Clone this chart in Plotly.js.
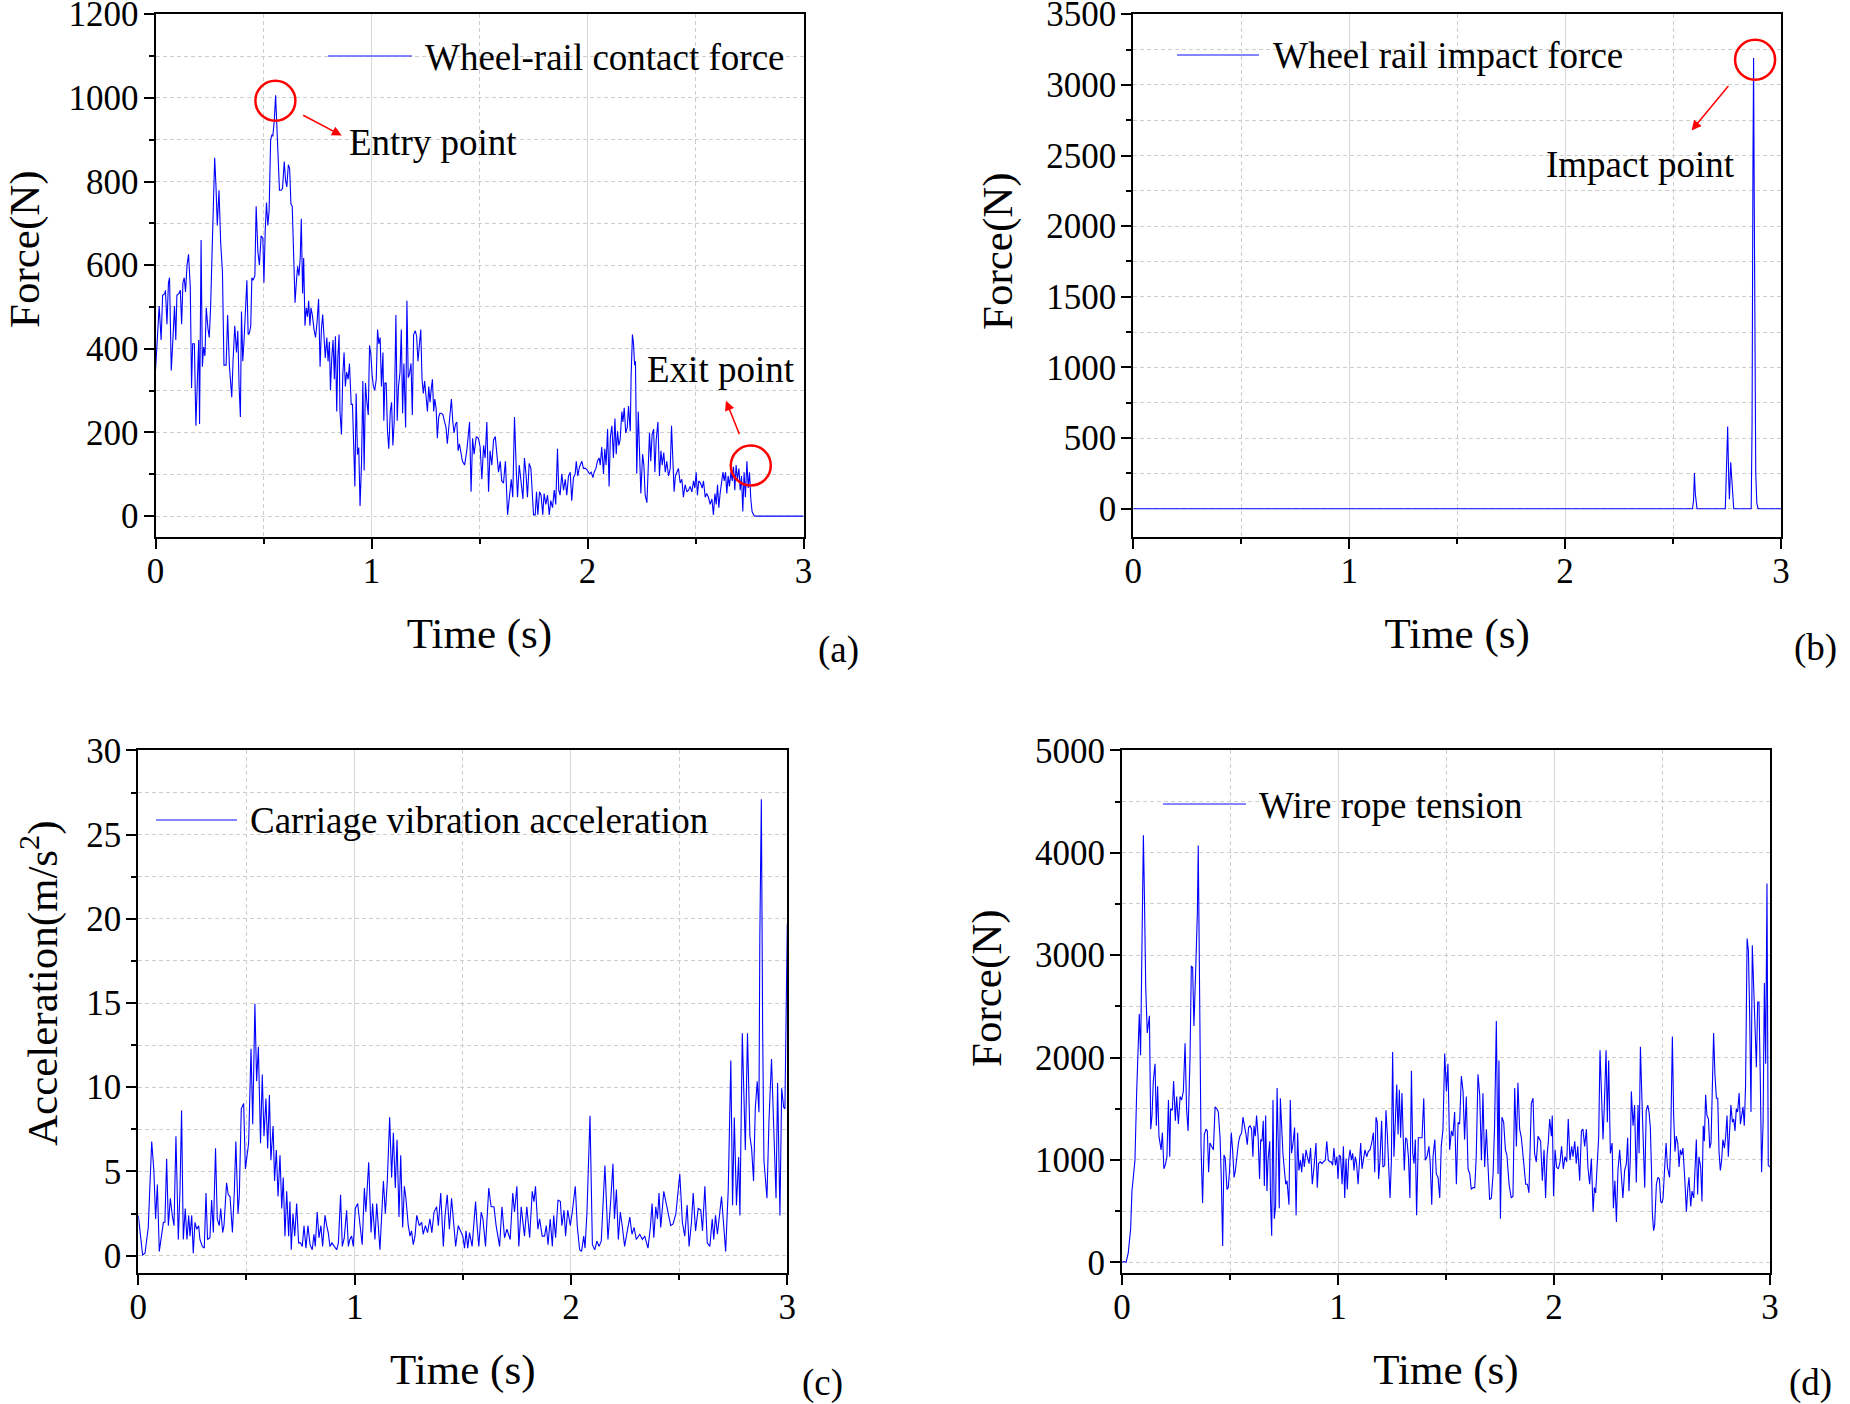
<!DOCTYPE html>
<html>
<head>
<meta charset="utf-8">
<script src="https://cdn.plot.ly/plotly-3.0.1.min.js"></script>
<style>
  html, body { margin: 0; padding: 0; background: #ffffff; }
  #chart { width: 1850px; height: 1404px; }
</style>
</head>
<body>
<div id="chart"></div>
<script>
// ---- (a) wheel-rail contact force ----
const contactTime = [
  0.000,0.008,0.017,0.026,0.033,0.043,0.046,0.053,0.060,0.065,0.073,0.080,0.088,0.094,0.099,0.108,0.115,0.121,0.127,0.133,
  0.139,0.146,0.153,0.161,0.167,0.172,0.180,0.187,0.193,0.200,0.204,0.211,0.217,0.223,0.229,0.235,0.243,0.249,0.255,0.263,
  0.274,0.280,0.286,0.294,0.302,0.310,0.317,0.327,0.334,0.342,0.353,0.359,0.367,0.375,0.381,0.387,0.393,0.398,0.404,0.410,
  0.415,0.423,0.429,0.435,0.441,0.446,0.452,0.460,0.466,0.474,0.481,0.489,0.497,0.502,0.508,0.514,0.520,0.526,0.533,0.539,
  0.543,0.550,0.556,0.560,0.567,0.574,0.582,0.588,0.596,0.602,0.608,0.615,0.621,0.627,0.633,0.639,0.646,0.652,0.658,0.664,
  0.670,0.675,0.681,0.686,0.692,0.698,0.704,0.709,0.715,0.720,0.726,0.734,0.741,0.748,0.755,0.762,0.768,0.774,0.780,0.786,
  0.793,0.799,0.805,0.810,0.816,0.822,0.828,0.833,0.839,0.844,0.850,0.854,0.861,0.867,0.873,0.879,0.885,0.892,0.898,0.906,
  0.912,0.918,0.923,0.929,0.935,0.941,0.947,0.954,0.960,0.966,0.972,0.978,0.985,0.991,0.997,1.003,1.009,1.015,1.022,1.028,
  1.034,1.040,1.046,1.053,1.057,1.062,1.068,1.074,1.080,1.087,1.093,1.099,1.105,1.113,1.119,1.125,1.132,1.138,1.144,1.150,
  1.158,1.164,1.170,1.176,1.183,1.189,1.195,1.203,1.209,1.215,1.221,1.228,1.234,1.240,1.246,1.252,1.259,1.265,1.271,1.277,
  1.282,1.288,1.293,1.299,1.305,1.311,1.317,1.324,1.331,1.337,1.345,1.351,1.358,1.364,1.370,1.376,1.382,1.389,1.395,1.401,
  1.407,1.421,1.431,1.441,1.454,1.461,1.468,1.475,1.485,1.495,1.503,1.511,1.519,1.526,1.534,1.542,1.549,1.557,1.565,1.573,
  1.580,1.588,1.596,1.603,1.611,1.620,1.630,1.637,1.647,1.654,1.662,1.670,1.676,1.684,1.691,1.701,1.708,1.716,1.722,1.730,
  1.738,1.744,1.750,1.758,1.764,1.770,1.778,1.785,1.793,1.799,1.807,1.815,1.823,1.830,1.838,1.846,1.853,1.861,1.867,1.873,
  1.881,1.889,1.897,1.904,1.912,1.920,1.927,1.935,1.943,1.948,1.955,1.963,1.974,1.981,1.991,2.000,2.009,2.017,2.025,2.031,
  2.039,2.046,2.054,2.059,2.066,2.074,2.080,2.086,2.093,2.100,2.106,2.113,2.120,2.127,2.133,2.139,2.145,2.151,2.159,2.164,
  2.170,2.177,2.184,2.190,2.198,2.202,2.208,2.213,2.218,2.222,2.228,2.235,2.241,2.247,2.255,2.261,2.267,2.275,2.281,2.287,
  2.293,2.299,2.306,2.312,2.318,2.326,2.333,2.340,2.346,2.353,2.360,2.367,2.375,2.383,2.389,2.395,2.401,2.407,2.414,2.421,
  2.429,2.437,2.444,2.452,2.460,2.468,2.475,2.483,2.491,2.497,2.503,2.509,2.515,2.523,2.531,2.537,2.545,2.552,2.560,2.568,
  2.576,2.583,2.590,2.596,2.602,2.608,2.614,2.620,2.627,2.633,2.639,2.645,2.651,2.657,2.664,2.670,2.676,2.682,2.688,2.694,
  2.701,2.707,2.713,2.719,2.725,2.731,2.738,2.744,2.750,2.756,2.762,2.769,2.776,3.000
];
const contactForce = [
  348,412,502,421,528,532,540,459,558,570,348,417,502,421,528,532,540,459,558,570,
  536,600,626,547,306,412,412,216,336,421,220,660,357,404,383,498,448,427,498,632,
  857,789,695,779,651,583,361,361,481,361,284,370,455,391,443,310,237,489,370,421,
  489,564,434,438,455,570,564,575,741,632,600,670,665,558,683,750,695,730,899,912,
  908,946,1006,949,880,779,779,783,848,804,787,840,831,746,741,600,510,558,597,575,
  617,711,532,617,455,498,477,515,455,498,481,446,427,464,519,357,446,482,434,378,
  427,370,417,301,378,421,327,430,250,378,434,250,195,336,391,310,344,327,365,267,
  267,173,71,293,147,164,24,130,323,109,318,276,242,408,387,336,310,301,327,446,
  412,427,310,391,228,318,318,203,161,250,272,169,225,481,228,310,344,446,246,365,
  212,515,331,340,365,242,434,443,430,370,400,446,327,293,323,293,250,310,272,306,
  327,250,280,259,186,237,246,246,242,228,212,173,212,242,280,228,199,220,225,156,
  173,131,122,156,225,58,186,148,190,186,165,88,169,139,225,58,156,122,182,190,
  152,105,131,84,79,131,3,45,88,45,237,114,45,122,88,41,139,96,45,126,
  114,54,3,3,58,3,58,50,3,54,28,50,3,37,20,62,28,161,62,50,
  101,62,88,50,96,105,37,92,101,131,96,118,131,114,114,109,101,105,92,105,
  114,131,139,122,165,101,161,122,208,71,190,216,139,233,148,203,169,182,250,225,
  259,199,212,263,203,336,434,412,361,370,101,250,173,54,148,122,50,32,114,199,
  131,195,208,105,182,225,96,156,122,152,105,131,96,114,216,148,58,96,105,114,
  79,88,45,75,58,62,71,58,84,67,105,50,84,79,67,84,45,54,45,28,
  41,3,54,28,75,20,54,79,105,84,105,54,96,71,105,84,118,62,122,88,
  114,62,96,11,105,45,131,67,105,41,11,3,0,0
];

// ---- (b) wheel rail impact force ----
const impactTime  = [0, 2.590, 2.595, 2.599, 2.603, 2.607, 2.611, 2.742, 2.748, 2.753, 2.758, 2.761, 2.767, 2.772, 2.781,
                     2.862, 2.866, 2.870, 2.873, 2.876, 2.879, 2.883, 2.888, 2.894, 3.000];
const impactForce = [0, 0, 60, 253, 110, 15, 0, 0, 300, 582, 200, 68, 329, 233, 0,
                     0, 600, 2400, 3190, 2200, 900, 250, 40, 0, 0];

// ---- (c) carriage vibration acceleration ----
const accelTime = [
  0.000,0.020,0.031,0.046,0.062,0.072,0.080,0.088,0.097,0.108,0.116,0.123,0.131,0.139,0.148,0.157,0.165,0.174,0.185,0.193,
  0.200,0.208,0.217,0.225,0.233,0.239,0.247,0.254,0.262,0.270,0.279,0.285,0.296,0.305,0.313,0.320,0.331,0.339,0.347,0.357,
  0.365,0.374,0.381,0.390,0.396,0.408,0.416,0.424,0.435,0.444,0.451,0.461,0.467,0.476,0.487,0.495,0.504,0.510,0.521,0.529,
  0.539,0.547,0.555,0.565,0.573,0.581,0.590,0.598,0.606,0.613,0.623,0.630,0.638,0.646,0.655,0.663,0.670,0.678,0.686,0.695,
  0.701,0.707,0.715,0.723,0.732,0.741,0.750,0.758,0.766,0.775,0.784,0.794,0.804,0.812,0.818,0.827,0.835,0.844,0.852,0.863,
  0.871,0.878,0.886,0.895,0.906,0.917,0.925,0.935,0.943,0.952,0.963,0.971,0.978,0.986,0.994,1.003,1.014,1.025,1.035,1.045,
  1.052,1.065,1.076,1.083,1.094,1.102,1.117,1.133,1.142,1.151,1.162,1.171,1.179,1.188,1.196,1.205,1.213,1.222,1.230,1.237,
  1.248,1.256,1.263,1.271,1.279,1.287,1.299,1.310,1.317,1.327,1.337,1.348,1.357,1.367,1.379,1.387,1.398,1.410,1.418,1.428,
  1.438,1.448,1.456,1.467,1.479,1.500,1.508,1.515,1.523,1.531,1.543,1.559,1.566,1.574,1.585,1.593,1.605,1.620,1.631,1.644,
  1.654,1.670,1.681,1.693,1.704,1.719,1.731,1.739,1.750,1.759,1.770,1.785,1.796,1.809,1.821,1.829,1.836,1.847,1.855,1.867,
  1.878,1.886,1.894,1.904,1.914,1.920,1.929,1.940,1.951,1.958,1.968,1.975,1.985,1.997,2.006,2.020,2.029,2.040,2.049,2.059,
  2.065,2.074,2.088,2.099,2.110,2.120,2.130,2.140,2.157,2.171,2.184,2.194,2.201,2.210,2.219,2.228,2.238,2.248,2.259,2.272,
  2.282,2.292,2.302,2.318,2.330,2.341,2.356,2.367,2.375,2.383,2.392,2.400,2.407,2.415,2.429,2.441,2.452,2.461,2.472,2.485,
  2.503,2.515,2.526,2.537,2.546,2.557,2.565,2.576,2.588,2.600,2.608,2.619,2.630,2.642,2.653,2.660,2.668,2.677,2.696,2.715,
  2.727,2.739,2.747,2.755,2.765,2.775,2.781,2.792,2.806,2.816,2.827,2.835,2.844,2.852,2.861,2.869,2.873,2.880,2.886,2.892,
  2.906,2.915,2.927,2.940,2.948,2.955,2.966,2.974,2.983,2.989,2.995,3.000
];
const accelValue = [
  2.39,0.04,0.14,1.67,6.78,5.04,2.18,4.23,0.25,1.47,1.98,1.98,5.76,1.78,3.41,2.39,1.78,7.09,0.96,4.02,
  8.62,0.96,2.80,0.96,2.39,1.16,2.39,0.14,1.98,1.57,1.78,0.96,0.55,0.45,3.72,0.96,1.06,3.31,1.37,6.37,
  2.18,1.78,2.80,1.37,1.78,4.33,3.61,3.51,1.37,3.82,6.78,2.49,3.61,8.72,9.03,5.15,5.96,6.68,12.29,7.80,
  14.95,10.35,12.40,6.68,10.76,7.09,9.33,6.37,9.54,5.66,7.70,4.43,6.27,3.51,5.96,2.80,4.64,1.16,3.82,1.16,
  3.21,0.35,2.49,1.16,3.10,0.76,0.76,0.55,1.78,0.45,1.78,0.65,0.35,1.27,0.55,2.59,1.06,1.78,0.55,2.39,
  1.78,1.37,0.55,0.76,0.55,0.35,0.76,3.61,0.55,1.06,2.70,0.55,0.96,1.16,0.55,2.80,3.10,1.78,0.65,4.02,
  2.59,5.55,1.37,3.10,0.96,3.10,0.35,4.43,2.49,4.43,8.21,4.64,7.29,4.02,6.88,2.29,5.96,1.67,4.12,3.41,
  1.78,1.16,1.47,0.65,1.16,2.39,1.78,1.98,1.27,1.78,1.37,2.18,1.37,2.59,2.90,1.78,3.72,0.55,2.39,3.61,
  1.57,3.41,2.18,0.55,1.78,1.16,0.45,1.47,0.45,1.37,0.55,3.21,1.78,0.55,2.59,2.18,0.55,4.02,2.90,2.90,
  1.78,0.55,2.90,1.06,1.57,0.96,3.72,2.59,4.12,0.55,2.90,1.16,2.90,1.06,3.82,3.21,4.12,1.57,2.18,1.16,
  1.16,1.78,0.65,2.18,0.55,2.39,1.06,3.31,3.21,1.78,2.70,1.16,2.70,1.78,2.59,4.12,1.78,0.35,0.25,1.16,
  0.45,2.59,8.31,0.65,0.35,0.86,0.55,0.86,5.35,0.96,3.31,5.45,2.18,3.92,0.96,2.59,1.67,0.55,1.37,2.29,
  1.27,1.67,0.96,1.27,0.96,1.16,0.45,1.67,3.10,1.06,2.90,2.18,3.72,1.67,3.82,3.00,2.18,1.78,1.88,2.49,
  4.84,1.98,1.16,3.00,0.55,1.98,3.72,1.47,2.80,2.70,1.47,4.12,0.76,0.55,2.18,0.96,2.39,1.27,3.51,0.25,
  3.92,11.58,3.00,8.21,3.00,5.86,2.39,13.21,6.27,13.21,7.09,6.37,4.43,8.72,10.35,8.52,18.93,27.10,13.42,5.66,
  3.41,7.90,11.68,7.09,3.41,10.25,2.39,9.94,8.82,8.72,14.80,19.70
];

// ---- (d) wire rope tension ----
const tensionTime = [
  0.000,0.009,0.019,0.029,0.040,0.046,0.054,0.060,0.068,0.074,0.080,0.086,0.093,0.099,0.103,0.110,0.117,0.127,0.133,0.139,
  0.145,0.153,0.159,0.165,0.171,0.181,0.187,0.194,0.202,0.208,0.215,0.221,0.225,0.233,0.239,0.247,0.253,0.261,0.269,0.276,
  0.284,0.292,0.299,0.306,0.315,0.321,0.327,0.333,0.341,0.349,0.353,0.360,0.366,0.373,0.381,0.389,0.395,0.401,0.407,0.415,
  0.423,0.431,0.438,0.446,0.454,0.460,0.466,0.472,0.478,0.486,0.492,0.498,0.506,0.512,0.519,0.525,0.531,0.539,0.546,0.554,
  0.560,0.566,0.574,0.580,0.586,0.593,0.600,0.606,0.611,0.617,0.623,0.630,0.637,0.642,0.648,0.654,0.659,0.665,0.671,0.676,
  0.684,0.688,0.693,0.699,0.705,0.711,0.718,0.724,0.728,0.733,0.739,0.745,0.752,0.758,0.764,0.773,0.779,0.785,0.792,0.799,
  0.806,0.813,0.819,0.826,0.832,0.838,0.844,0.852,0.858,0.866,0.873,0.881,0.889,0.898,0.904,0.910,0.918,0.926,0.932,0.941,
  0.948,0.955,0.963,0.969,0.975,0.981,0.988,0.995,1.000,1.006,1.012,1.019,1.025,1.031,1.037,1.043,1.049,1.056,1.062,1.068,
  1.074,1.080,1.086,1.093,1.099,1.105,1.111,1.117,1.125,1.133,1.140,1.148,1.156,1.164,1.170,1.176,1.182,1.188,1.194,1.202,
  1.208,1.216,1.222,1.228,1.235,1.241,1.247,1.253,1.259,1.265,1.272,1.278,1.284,1.290,1.296,1.302,1.307,1.313,1.319,1.326,
  1.333,1.340,1.346,1.352,1.358,1.364,1.372,1.389,1.397,1.404,1.412,1.421,1.427,1.434,1.440,1.448,1.455,1.463,1.471,1.478,
  1.486,1.494,1.502,1.509,1.517,1.525,1.532,1.540,1.548,1.556,1.563,1.571,1.579,1.586,1.594,1.602,1.610,1.617,1.625,1.633,
  1.640,1.648,1.656,1.664,1.671,1.679,1.687,1.694,1.702,1.710,1.718,1.725,1.733,1.741,1.745,1.752,1.759,1.767,1.775,1.782,
  1.792,1.802,1.810,1.818,1.826,1.833,1.841,1.849,1.860,1.869,1.877,1.884,1.895,1.903,1.910,1.918,1.926,1.938,1.946,1.954,
  1.961,1.968,1.974,1.980,1.988,1.992,1.998,2.005,2.012,2.020,2.028,2.035,2.043,2.051,2.059,2.066,2.074,2.082,2.088,2.096,
  2.103,2.110,2.119,2.127,2.134,2.142,2.150,2.157,2.165,2.173,2.181,2.187,2.193,2.201,2.207,2.213,2.219,2.227,2.233,2.241,
  2.247,2.253,2.261,2.269,2.275,2.282,2.289,2.296,2.304,2.312,2.319,2.327,2.335,2.341,2.347,2.353,2.358,2.366,2.373,2.381,
  2.389,2.394,2.400,2.407,2.414,2.420,2.427,2.434,2.440,2.446,2.451,2.455,2.461,2.466,2.474,2.481,2.488,2.494,2.500,2.505,
  2.512,2.519,2.525,2.531,2.535,2.540,2.548,2.554,2.560,2.566,2.573,2.579,2.585,2.591,2.597,2.605,2.613,2.619,2.625,2.633,
  2.639,2.647,2.653,2.659,2.665,2.671,2.679,2.685,2.691,2.696,2.702,2.708,2.715,2.721,2.727,2.733,2.739,2.745,2.752,2.758,
  2.764,2.770,2.776,2.782,2.789,2.795,2.801,2.807,2.813,2.819,2.826,2.832,2.838,2.844,2.850,2.857,2.863,2.869,2.875,2.881,
  2.887,2.894,2.900,2.906,2.912,2.918,2.924,2.931,2.937,2.943,2.949,2.955,2.961,2.968,2.974,2.980,2.986,2.992,3.000
];
const tensionForce = [
  0,7,0,91,326,695,863,997,1669,2005,2424,2022,3264,4171,3684,2676,2240,2408,1300,1434,
  1770,1938,1333,1719,1232,1098,1266,913,964,1031,1585,1031,1501,1484,1770,1383,1619,1350,1619,1585,
  1669,2139,1501,1283,2005,2895,2878,2307,2844,3415,4070,2441,1115,578,1249,1300,1283,880,1165,1132,
  1098,1518,1501,1467,1216,796,158,1048,1014,712,729,897,1266,1098,829,897,1031,1165,1232,1266,
  1417,1350,1249,1148,1316,1333,1300,1031,1333,1232,1434,1232,813,1199,1182,1383,745,1434,695,997,
  1182,578,259,1585,426,544,1703,1098,527,1602,1300,1065,897,762,796,561,1585,1065,1165,1316,
  460,1266,897,997,880,1065,930,1098,1031,964,1115,762,930,1165,729,964,981,964,981,997,
  1182,997,981,981,947,1115,947,1031,813,1048,1031,762,1132,628,1014,712,997,1098,997,1065,
  897,1031,964,762,964,1165,913,1014,1098,1031,1081,1098,1165,1266,880,1417,1367,813,981,1383,
  930,947,1484,1266,897,628,981,2055,1031,1434,1736,1249,1686,1216,1652,1216,897,1216,1199,1031,
  628,1870,1065,964,1199,460,1216,1216,1602,997,1031,1132,964,561,1031,1199,863,829,628,1132,
  1300,2038,1669,1938,1098,1283,1232,1467,762,1367,1350,1820,1669,1199,1619,913,863,712,729,729,
  1031,1837,1635,997,1652,930,1300,964,611,628,863,1333,2357,863,1971,426,1417,1367,1098,1048,
  762,628,645,1702,1132,1753,1300,1216,981,762,762,678,1551,1602,1064,981,1232,1182,796,1098,
  628,1048,1182,1400,1232,1434,645,1098,930,913,981,1132,913,1031,981,1400,997,1132,1031,1182,
  964,1132,796,1283,1300,1132,1300,930,762,1014,494,729,678,964,1232,2072,1736,1199,1535,2072,
  1367,1971,1064,1165,527,796,393,897,1098,829,628,897,964,1216,695,997,1669,1333,1535,779,
  1535,1064,2105,1602,1165,729,1484,1535,1467,1316,930,494,309,359,762,829,813,594,578,628,
  913,1165,930,863,829,1165,2206,1434,1081,1232,1165,930,1098,1048,1115,829,494,712,829,544,
  695,628,1014,1199,662,1031,930,594,1333,1182,1635,1434,1400,1115,1165,1635,2240,1837,1602,1602,
  1081,897,997,1199,1115,1232,1434,1031,1367,1535,1367,1400,1283,1501,1467,1652,1350,1434,1518,1333,
  1736,3163,3046,2408,1467,3096,2676,2173,1904,2542,2542,1803,880,1367,2727,1938,3700,947,930
];

// Marked points in panels (a) and (b)
const entryPoint  = { t: 0.555, f: 993 };
const exitPoint   = { t: 2.756, f: 121 };
const impactPoint = { t: 2.880, f: 3178 };

const FONT = 'Liberation Serif, Times New Roman, Times, serif';
const W = 1850, H = 1404;
const px = x => x / W;
const py = y => 1 - y / H;

const BLUE = '#0000ff';
const GRID = '#cdcdcd';

function xAxis(left, right, anchor) {
  return {
    domain: [px(left), px(right)], anchor: anchor,
    range: [0, 3], tick0: 0, dtick: 1,
    showline: true, linecolor: '#000', linewidth: 2, mirror: true,
    ticks: 'outside', ticklen: 10, tickwidth: 2, tickcolor: '#000',
    ticklabelstandoff: -8, ticklabeloverflow: 'allow',
    tickfont: { family: FONT, size: 35, color: '#000' },
    showgrid: true, gridcolor: '#d8d8d8', gridwidth: 1,
    zeroline: false, automargin: false, fixedrange: true,
    minor: { dtick: 0.5, tick0: 0, ticks: 'outside', ticklen: 5, tickwidth: 2, tickcolor: '#000',
             showgrid: true, gridcolor: GRID, griddash: '4px,3px', gridwidth: 1 },
    title: { text: 'Time (s)', font: { family: FONT, size: 43, color: '#000' }, standoff: 28 }
  };
}

function yAxis(top, bottom, anchor, range, dtick, minorDtick) {
  return {
    domain: [py(bottom), py(top)], anchor: anchor,
    range: range, tick0: 0, dtick: dtick,
    showline: true, linecolor: '#000', linewidth: 2, mirror: true,
    ticks: 'outside', ticklen: 10, tickwidth: 2, tickcolor: '#000',
    ticklabelstandoff: -2, ticklabeloverflow: 'allow',
    tickfont: { family: FONT, size: 35, color: '#000' },
    showgrid: true, gridcolor: GRID, griddash: '4px,3px', gridwidth: 1,
    zeroline: false, automargin: false, fixedrange: true,
    minor: { dtick: minorDtick, tick0: 0, ticks: 'outside', ticklen: 5, tickwidth: 2, tickcolor: '#000',
             showgrid: true, gridcolor: GRID, griddash: '4px,3px', gridwidth: 1 }
  };
}

function series(x, y, xa, ya) {
  return { type: 'scatter', mode: 'lines', x: x, y: y, xaxis: xa, yaxis: ya,
           line: { color: BLUE, width: 1.1 }, showlegend: false, hoverinfo: 'skip' };
}

const data = [
  series(contactTime, contactForce, 'x', 'y'),
  series(impactTime, impactForce, 'x2', 'y2'),
  series(accelTime, accelValue, 'x3', 'y3'),
  series(tensionTime, tensionForce, 'x4', 'y4')
];

function text(str, x, y, size, anchor, angle) {
  return { text: str, xref: 'paper', yref: 'paper', x: px(x), y: py(y),
           xanchor: anchor || 'center', yanchor: 'middle', showarrow: false,
           textangle: angle || 0, font: { family: FONT, size: size, color: '#000' } };
}

function legendLine(x0, x1, y) {
  return { type: 'line', xref: 'paper', yref: 'paper', x0: px(x0), x1: px(x1), y0: py(y), y1: py(y),
           line: { color: '#5c5cff', width: 1.5 } };
}

function ring(xa, ya, p) {
  return { type: 'circle', xref: xa, yref: ya, xsizemode: 'pixel', ysizemode: 'pixel',
           xanchor: p.t, yanchor: p.f, x0: -20, x1: 20, y0: -20, y1: 20,
           line: { color: '#ff0000', width: 2.5 } };
}

function pointer(xa, ya, t, f, ax, ay) {
  return { xref: xa, yref: ya, x: t, y: f, ax: ax, ay: ay, text: '', showarrow: true,
           arrowhead: 2, arrowsize: 1.3, arrowwidth: 1.5, arrowcolor: '#ff0000' };
}

const layout = {
  width: W, height: H,
  margin: { l: 0, r: 0, t: 0, b: 0 },
  paper_bgcolor: '#ffffff', plot_bgcolor: '#ffffff',
  showlegend: false,
  font: { family: FONT, color: '#000' },
  xaxis:  xAxis(155.5, 803.5, 'y'),
  yaxis:  yAxis(14.2, 537, 'x', [-50, 1200], 200, 100),
  xaxis2: xAxis(1133.3, 1781, 'y2'),
  yaxis2: yAxis(14.2, 537, 'x2', [-200, 3500], 500, 250),
  xaxis3: xAxis(138.3, 787.3, 'y3'),
  yaxis3: yAxis(750.4, 1272.5, 'x3', [-1, 30], 5, 2.5),
  xaxis4: xAxis(1122, 1770, 'y4'),
  yaxis4: yAxis(750.4, 1272.5, 'x4', [-100, 5000], 1000, 500),
  shapes: [
    legendLine(328, 412, 56),
    legendLine(1177, 1259, 55),
    legendLine(156, 237, 820),
    legendLine(1163, 1246, 804),
    ring('x', 'y', entryPoint),
    ring('x', 'y', exitPoint),
    ring('x2', 'y2', impactPoint)
  ],
  annotations: [
    // legends
    text('Wheel-rail contact force', 423, 57.5, 37, 'left'),
    text('Wheel rail impact force', 1270.7, 55.7, 37, 'left'),
    text('Carriage vibration acceleration', 248.3, 820, 37, 'left'),
    text('Wire rope tension', 1256.7, 805.6, 37, 'left'),
    // callouts
    text('Entry point', 433.4, 142.4, 37),
    text('Exit point', 721, 369.4, 37),
    text('Impact point', 1640, 164.2, 37),
    pointer('x', 'y', 0.862, 910, -40, -21),
    pointer('x', 'y', 2.641, 276, 14, 35),
    pointer('x2', 'y2', 2.586, 2677, 38, -46),
    // vertical axis titles
    text('Force(N)', 25, 249, 43, 'center', -90),
    text('Force(N)', 998, 251, 43, 'center', -90),
    text('Acceleration(m/s<sup>2</sup>)', 40, 984, 43, 'center', -90),
    text('Force(N)', 987, 988, 43, 'center', -90),
    // panel labels
    text('(a)', 838, 650, 37),
    text('(b)', 1815, 648, 37),
    text('(c)', 822, 1383, 37),
    text('(d)', 1810, 1383, 37)
  ]
};

Plotly.newPlot('chart', data, layout, { staticPlot: true, displayModeBar: false });
</script>
</body>
</html>
